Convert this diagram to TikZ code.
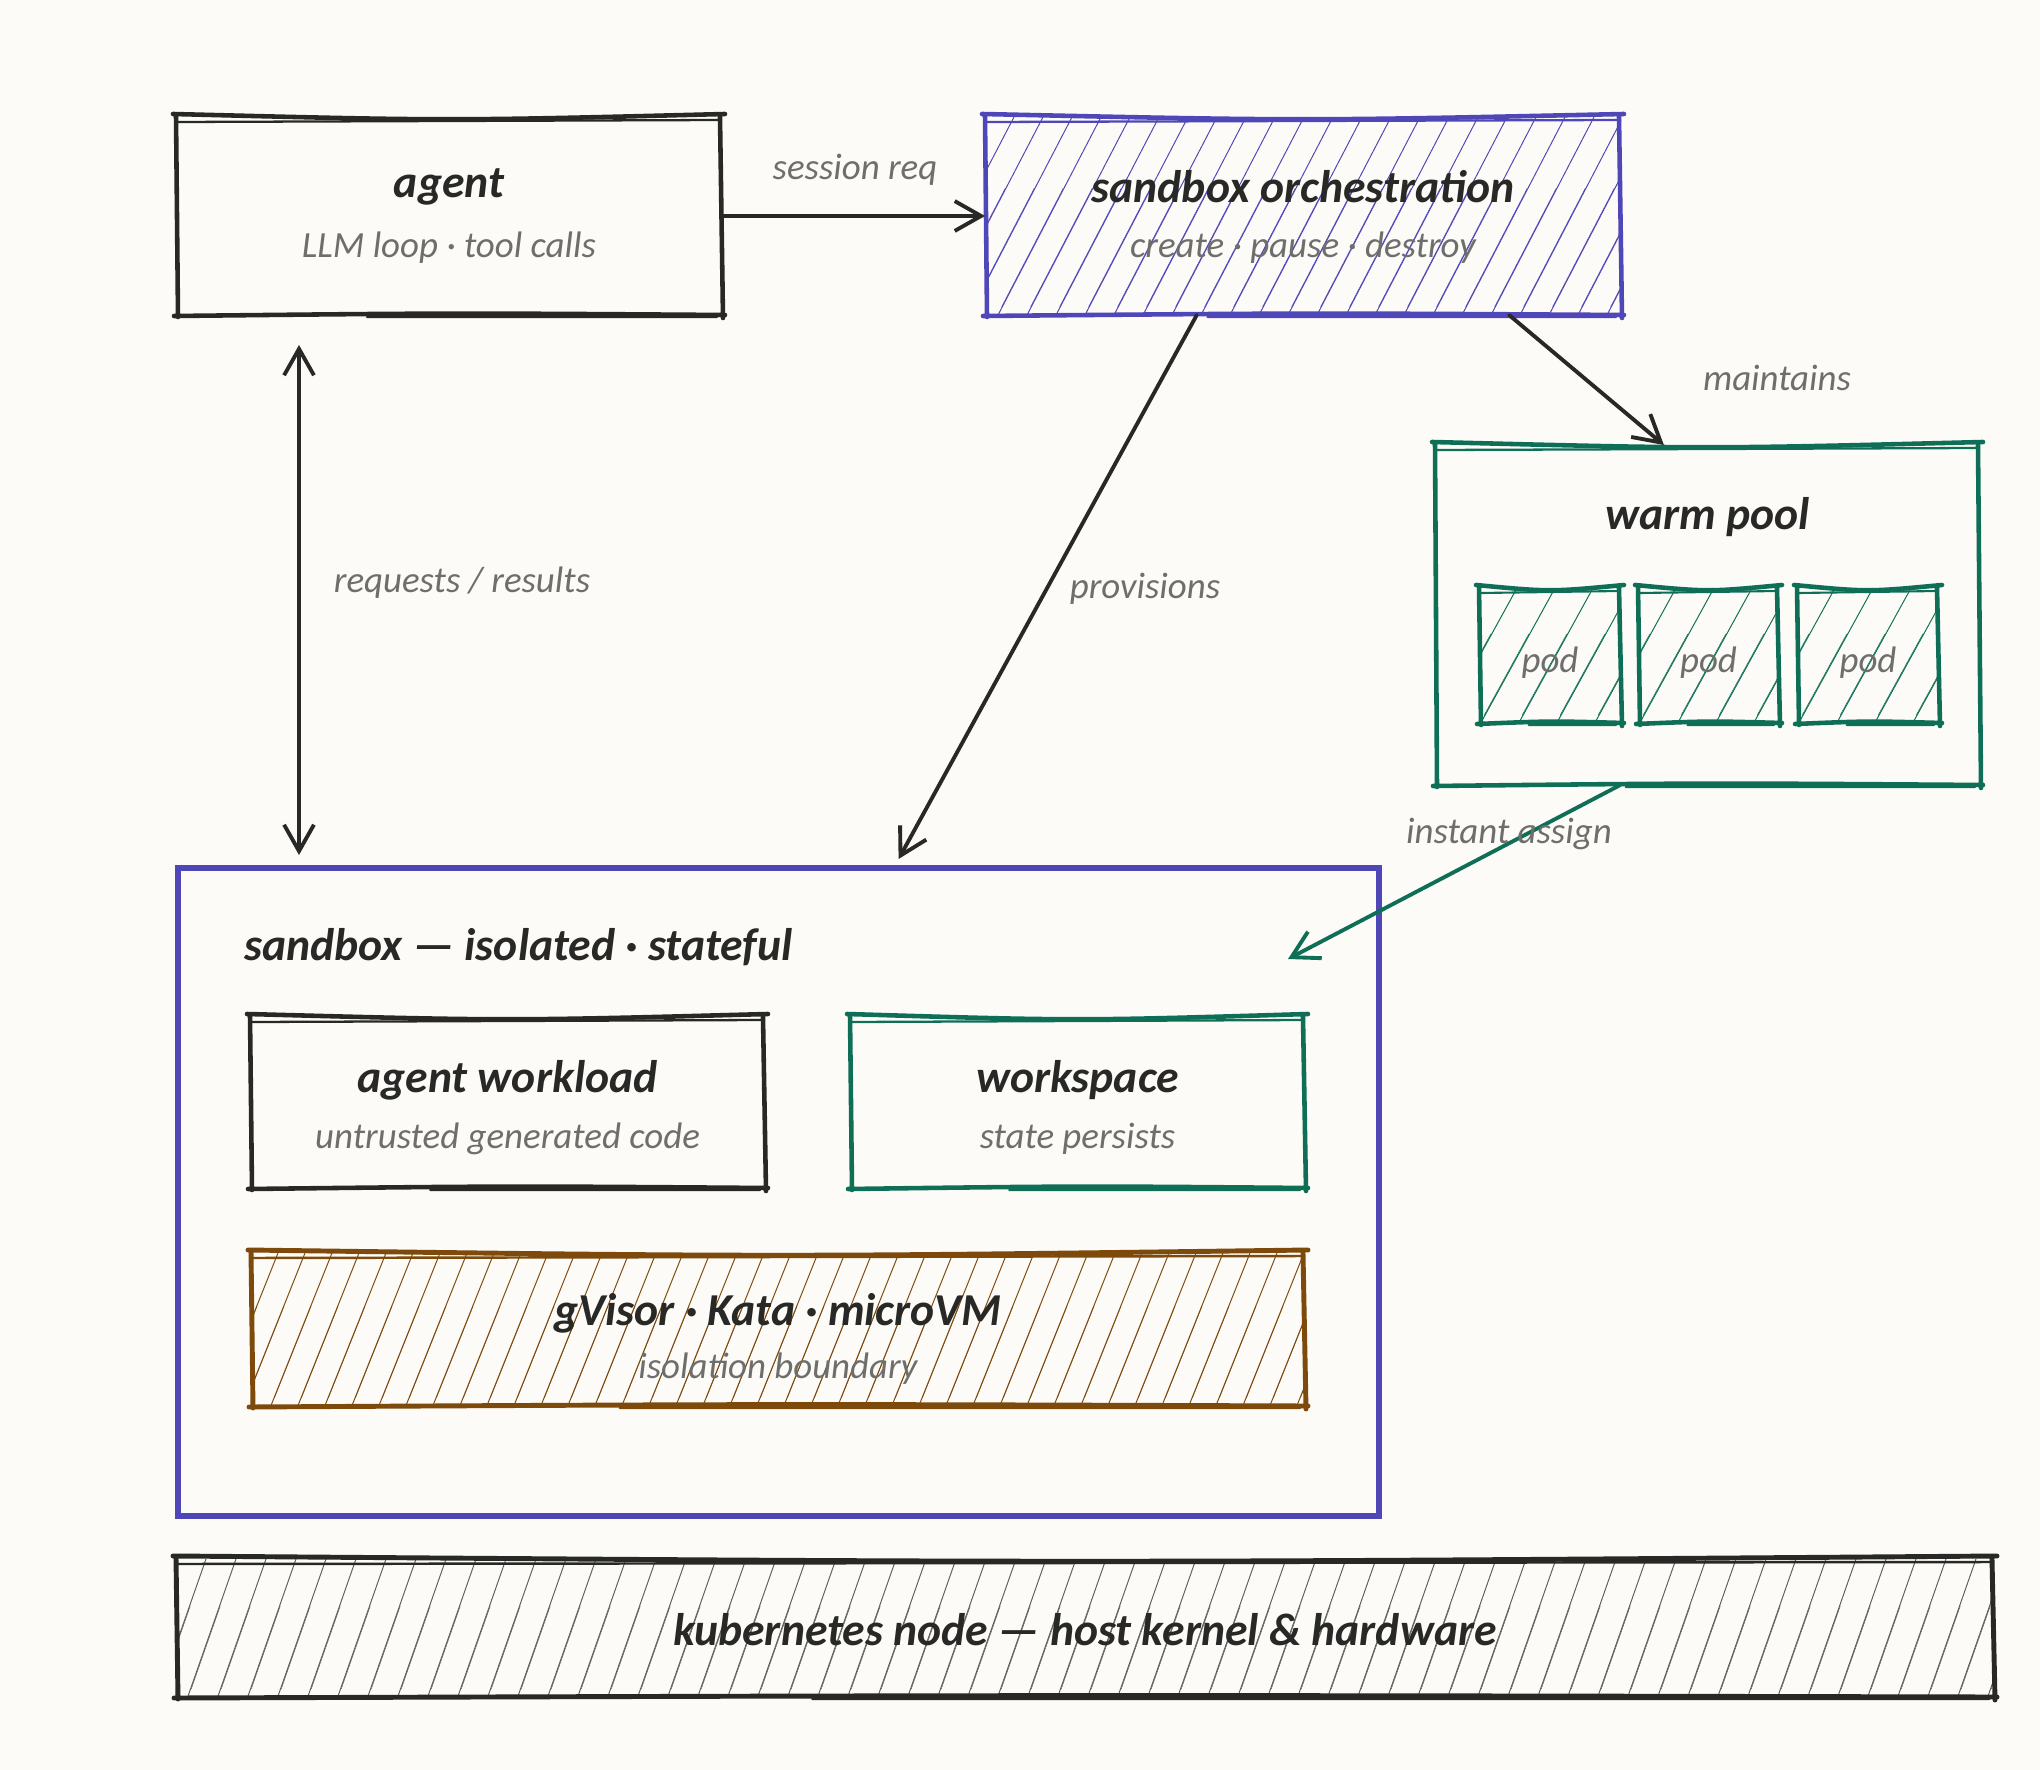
\documentclass[tikz,border=0pt]{standalone}
\usepackage{fontspec}
\setmainfont{Carlito}
\usetikzlibrary{calc,fit,arrows.meta}
\definecolor{bg}{HTML}{FCFBF7}
\definecolor{ink}{HTML}{282826}
\definecolor{purp}{HTML}{4F47B8}
\definecolor{grn}{HTML}{0F6E56}
\definecolor{brn}{HTML}{7D4A0C}
\definecolor{txtgray}{HTML}{6E6E6C}
\newcommand\hatchrect[7]{%
  \begin{scope}
    \clip (#1,#2) rectangle (#3,#4);
    \pgfmathsetmacro\hh{#4-#2}
    \pgfmathsetmacro\hs{#1-\hh*#7}
    \pgfmathsetmacro\hn{\hs+#6}
    \foreach \hx in {\hs,\hn,...,#3} {
      \draw[#5, line width=0.55pt] (\hx,#4) -- ++(\hh*#7,-\hh);
      \draw[#5, line width=0.3pt] (\hx+3.5,#4-8) -- ++(\hh*#7*0.6,-\hh*0.6);
    }
  \end{scope}}
\newcommand\rough[4]{%
  \draw[#2, line width=#3, line cap=round, line join=round]
    ($(#1.north west)+(-3,-3)$) .. controls ($(#1.north west)!0.5!(#1.north east)+(0,4)$) .. ($(#1.north east)+(3,-3)$)
    ($(#1.north west)+(0,-2)$) -- ($(#1.south west)+(2,2)$)
    ($(#1.north east)+(-2,0)$) -- ($(#1.south east)+(1,3)$)
    ($(#1.south west)+(-2,1)$) .. controls ($(#1.south west)!0.5!(#1.south east)+(0,-2)$) .. ($(#1.south east)+(3,0)$);
  \draw[#2, line width=#4, line cap=round]
    ($(#1.north west)+(2,5)$) -- ($(#1.north east)+(-1,3)$)
    ($(#1.south west)!0.35!(#1.south east)+(0,2)$) -- ($(#1.south east)+(-5,2)$);}
\begin{document}
\begin{tikzpicture}[x=0.02cm,y=-0.02cm,
  box/.style={inner sep=0pt, outer sep=0pt},
  ttl/.style={font=\fontsize{26}{30}\selectfont\bfseries\itshape, text=ink},
  sub/.style={font=\fontsize{21}{25}\selectfont\itshape, text=txtgray},
  arr/.style={draw=ink, line width=2.2pt, line cap=round, -{Straight Barb[length=15pt,width=17pt]}},
  darr/.style={draw=ink, line width=2.2pt, line cap=round, {Straight Barb[length=15pt,width=17pt]}-{Straight Barb[length=15pt,width=17pt]}}]
\useasboundingbox (0,0) rectangle (2040,1770);
\fill[bg] (0,0) rectangle (2040,1770);

% nodes
\node[box, fit={(176,117) (722,315)}] (agent) {};
\node[box, fit={(985,117) (1621,315)}] (orch) {};
\node[box, fit={(1435,445) (1980,785)}] (pool) {};
\node[box, fit={(1479,588) (1621,723)}] (pod1) {};
\node[box, fit={(1638,588) (1779,723)}] (pod2) {};
\node[box, fit={(1797,588) (1939,723)}] (pod3) {};
\node[box, fit={(178,868) (1379,1516)}] (sandbox) {};
\node[box, fit={(250,1017) (765,1188)}] (work) {};
\node[box, fit={(850,1017) (1305,1188)}] (wspace) {};
\node[box, fit={(251,1253) (1305,1406)}] (iso) {};
\node[box, fit={(176,1559) (1994,1697)}] (k8s) {};

% hatching
\hatchrect{985}{117}{1621}{315}{purp}{29}{0.52}
\hatchrect{1479}{588}{1621}{723}{grn}{38}{0.55}
\hatchrect{1638}{588}{1779}{723}{grn}{38}{0.55}
\hatchrect{1797}{588}{1939}{723}{grn}{38}{0.55}
\hatchrect{251}{1253}{1305}{1406}{brn}{27}{0.4}
\hatchrect{176}{1559}{1994}{1697}{ink!75}{30}{0.35}

% borders
\rough{agent}{ink}{2.6pt}{1.3pt}
\rough{orch}{purp}{2.6pt}{1.3pt}
\rough{pool}{grn}{2.6pt}{1.3pt}
\rough{pod1}{grn}{2.6pt}{1.2pt}
\rough{pod2}{grn}{2.6pt}{1.2pt}
\rough{pod3}{grn}{2.6pt}{1.2pt}
\draw[purp, line width=3pt, line cap=round] (sandbox.north west) -- (sandbox.north east) -- (sandbox.south east) -- (sandbox.south west) -- cycle;
\rough{work}{ink}{2.6pt}{1.3pt}
\rough{wspace}{grn}{2.6pt}{1.3pt}
\rough{iso}{brn}{2.8pt}{1.4pt}
\rough{k8s}{ink}{2.8pt}{1.4pt}

% connectors
\draw[arr] (agent.east) -- (orch.west);
\draw[darr] ($(agent.south west)+(123,30)$) -- ($(sandbox.north west)+(121,-13)$);
\draw[arr] ($(orch.south west)!0.333!(orch.south east)$) -- ($(sandbox.north west)!0.6!(sandbox.north east)+(0,-9)$);
\draw[arr] ($(orch.south west)!0.824!(orch.south east)$) -- ($(pool.north west)!0.42!(pool.north east)$);
\draw[arr, draw=grn] ($(pool.south west)!0.34!(pool.south east)$) -- ($(sandbox.north east)+(-91,91)$);

% connector labels
\node[sub] (lsess) at (855,170) {session req};
\node[sub] (lreq) at (462,583) {requests / results};
\node[sub] (lprov) at (1145,589) {provisions};
\node[sub] (lmain) at (1777,378) {maintains};
\node[sub] (linst) at (1509,834) {instant assign};

% texts
\node[ttl] (agentT) at ($(agent.north)+(0,70)$) {agent};
\node[sub] (agentS) at ($(agent.north)+(0,131)$) {LLM loop · tool calls};
\node[ttl] (orchT) at ($(orch.north)+(0,70)$) {sandbox orchestration};
\node[sub] (orchS) at ($(orch.north)+(0,131)$) {create · pause · destroy};
\node[ttl] (poolT) at ($(pool.north)+(0,72)$) {warm pool};
\node[sub] (pod1T) at ($(pod1.center)+(0,7)$) {pod};
\node[sub] (pod2T) at ($(pod2.center)+(0,7)$) {pod};
\node[sub] (pod3T) at ($(pod3.center)+(0,7)$) {pod};
\node[ttl, anchor=west] (sandT) at ($(sandbox.north west)+(60,79)$) {sandbox — isolated · stateful};
\node[ttl] (workT) at ($(work.north)+(0,63)$) {agent workload};
\node[sub] (workS) at ($(work.north)+(0,122)$) {untrusted generated code};
\node[ttl] (wspaceT) at ($(wspace.north)+(0,63)$) {workspace};
\node[sub] (wspaceS) at ($(wspace.north)+(0,122)$) {state persists};
\node[ttl] (isoT) at ($(iso.north)+(0,60)$) {gVisor · Kata · microVM};
\node[sub] (isoS) at ($(iso.north)+(0,116)$) {isolation boundary};
\node[ttl] (k8sT) at ($(k8s.center)+(0,2)$) {kubernetes node — host kernel \& hardware};
\end{tikzpicture}
\end{document}
